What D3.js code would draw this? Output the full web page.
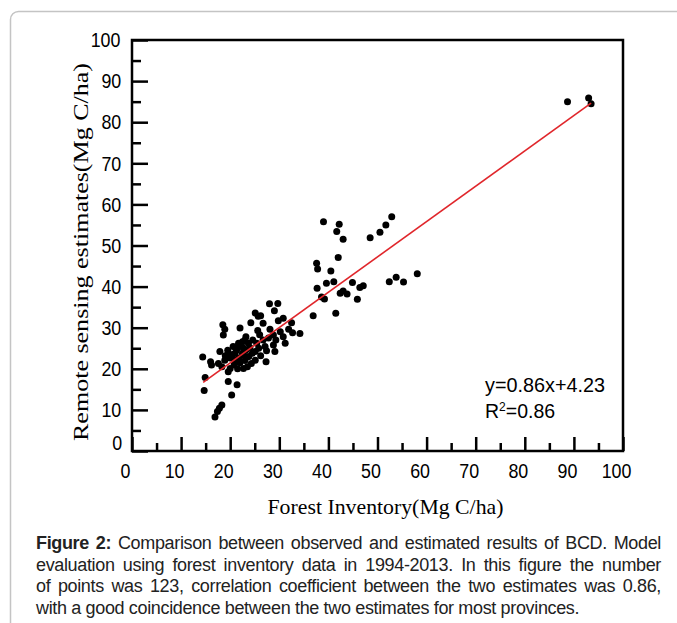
<!DOCTYPE html>
<html lang="en">
<head>
<meta charset="utf-8" />
<title>Figure 2: Forest inventory vs remote sensing estimates</title>
<script src="https://cdn.jsdelivr.net/npm/d3@7"></script>
<style>
    body {
        margin: 0;
        background: #fff;
        width: 677px;
        height: 623px;
        overflow: hidden;
        position: relative;
        font-family: "Liberation Sans", Arial, sans-serif;
    }
    #chart { position: absolute; left: 0; top: 0; }
    /* tick labels in the original look a bit narrow */
    .tick text {
        font-family: "Liberation Sans", Arial, sans-serif;
        font-size: 21px;
        fill: #000;
        transform-box: fill-box;
        transform-origin: center;
        transform: scaleX(0.85);
    }
    .tick line { stroke: #000; stroke-width: 2.5px; }
    .caption {
        position: absolute;
        left: 36px;
        top: 533px;
        width: 625px;
        font-size: 18px;
        letter-spacing: -0.35px;
        line-height: 21.7px;
        color: #222;
    }
    .caption div { text-align: justify; text-align-last: justify; }
    .caption div.last { text-align-last: left; }
</style>
</head>
<body>
<svg id="chart" width="677" height="623"></svg>

<div class="caption">
    <div><b>Figure 2:</b> Comparison between observed and estimated results of BCD. Model</div>
    <div>evaluation using forest inventory data in 1994-2013. In this figure the number</div>
    <div>of points was 123, correlation coefficient between the two estimates was 0.86,</div>
    <div class="last">with a good coincidence between the two estimates for most provinces.</div>
</div>

<script>
// forest inventory (x) vs remote sensing estimate (y), Mg C/ha
const invX = [
    88.7, 93.0, 93.5,
    39.0, 42.2, 41.7, 43.0, 52.9, 51.7, 50.5, 48.5, 42.0, 37.6, 37.8, 40.5, 41.1,
    39.6, 37.7, 44.9, 47.1, 46.4, 42.4, 43.0, 43.8, 38.6, 39.2, 45.9, 52.4, 53.8,
    55.3, 58.1, 36.9, 41.5,
    14.4, 14.7, 14.9, 16.0, 16.2, 16.9, 17.4, 17.8, 18.3, 17.9, 18.5, 18.9, 18.6,
    17.6, 18.3, 18.9, 19.6, 20.3, 19.6, 20.0, 20.3, 20.6, 21.4, 22.0, 21.0, 21.7,
    22.3, 22.7, 23.5, 24.2, 22.5, 23.0, 23.7, 25.1, 25.7, 25.1, 25.1, 23.2, 24.6,
    28.0, 29.7, 29.0, 26.2, 26.7, 30.8, 29.8, 32.5, 28.1, 32.7, 34.2, 30.8, 28.8,
    29.3, 31.2, 26.7, 25.4, 27.1, 28.8, 27.4, 29.1, 27.3, 21.3, 22.7,
    19.5, 20.5, 21.2, 21.8, 22.5, 23.2, 24.0, 23.8, 22.0, 20.8, 21.5, 24.5, 25.8,
    26.2, 19.0, 23.0,
    21.2, 19.6, 22.7, 23.4, 24.3, 26.0, 27.8, 20.0, 25.6, 30.2, 31.9
];
const rsY = [
    85.0, 85.9, 84.5,
    55.8, 55.2, 53.4, 51.5, 57.0, 55.0, 53.2, 51.9, 47.1, 45.7, 44.3, 43.8, 41.2,
    40.8, 39.6, 41.0, 40.2, 39.8, 38.4, 38.9, 38.2, 37.5, 37.0, 36.9, 41.2, 42.3,
    41.1, 43.1, 32.9, 33.5,
    22.9, 14.7, 17.9, 21.7, 20.9, 8.3, 9.6, 10.4, 11.2, 24.2, 30.7, 29.6, 28.2,
    21.3, 20.5, 22.1, 16.9, 13.6, 19.3, 20.1, 22.9, 25.4, 16.1, 29.9, 23.8, 26.2,
    25.4, 20.1, 20.5, 31.2, 26.6, 27.0, 26.2, 33.6, 32.8, 24.2, 22.1, 27.8, 27.0,
    35.8, 35.9, 34.1, 32.9, 31.1, 32.3, 31.7, 31.2, 29.6, 28.8, 28.6, 27.8, 28.2,
    27.0, 26.2, 27.0, 26.2, 25.4, 25.8, 24.4, 24.2, 21.7, 24.6, 25.0,
    24.5, 23.5, 24.8, 22.6, 23.8, 24.6, 25.2, 23.0, 21.5, 21.0, 20.0, 23.8, 25.0,
    23.2, 23.2, 22.0,
    22.1, 23.8, 23.4, 22.9, 21.3, 28.3, 27.5, 22.6, 29.3, 29.0, 29.6
];

// fitted line y = 0.86x + 4.23, drawn over the range of the data
const fitSlope = 0.86;
const fitIntercept = 4.23;
const fitRange = [14.5, 93.5];

const majorTicks = [0, 10, 20, 30, 40, 50, 60, 70, 80, 90, 100];
const minorTicks = [5, 15, 25, 35, 45, 55, 65, 75, 85, 95];

const svg = d3.select("#chart");

// card outline behind everything
svg.append("rect")
    .attr("x", 10.5).attr("y", 11.5)
    .attr("width", 720).attr("height", 700)
    .attr("rx", 8)
    .attr("fill", "none")
    .attr("stroke", "#c4c4c4")
    .attr("stroke-width", 1.5);

const plot = { left: 132, right: 623, top: 40, bottom: 451 };

const x = d3.scaleLinear().domain([0, 100]).range([plot.left, plot.right]);
const y = d3.scaleLinear().domain([0, 100]).range([plot.bottom, plot.top]);

// minor ticks first (no labels)
svg.append("g")
    .attr("transform", `translate(${plot.left},0)`)
    .call(d3.axisLeft(y).tickValues(minorTicks).tickSize(-9).tickFormat(""))
    .call(g => g.select(".domain").remove());
svg.append("g")
    .attr("transform", `translate(0,${plot.bottom})`)
    .call(d3.axisBottom(x).tickValues(minorTicks).tickSize(-8).tickFormat(""))
    .call(g => g.select(".domain").remove());

// major ticks, pointing into the plot
const yAxis = svg.append("g")
    .attr("transform", `translate(${plot.left},0)`)
    .call(d3.axisLeft(y).tickValues(majorTicks).tickSize(-16).tickPadding(9))
    .call(g => g.select(".domain").remove());
// the "0" label sits a little higher so it clears the x axis "0"
yAxis.selectAll(".tick text").filter(d => d === 0).attr("dy", "-0.05em");

svg.append("g")
    .attr("transform", `translate(0,${plot.bottom})`)
    .call(d3.axisBottom(x).tickValues(majorTicks).tickSize(-14).tickPadding(12))
    .call(g => g.select(".domain").remove())
    .call(g => g.selectAll(".tick text").attr("dx", -7));

// plot frame
svg.append("rect")
    .attr("x", plot.left).attr("y", plot.top)
    .attr("width", plot.right - plot.left)
    .attr("height", plot.bottom - plot.top)
    .attr("fill", "none")
    .attr("stroke", "#000")
    .attr("stroke-width", 2.5);

// points
svg.append("g")
    .selectAll("circle")
    .data(invX.map((v, i) => [v, rsY[i]]))
    .enter()
    .append("circle")
    .attr("cx", d => x(d[0]))
    .attr("cy", d => y(d[1]))
    .attr("r", 3.5)
    .attr("fill", "#000");

// regression line
svg.append("line")
    .attr("x1", x(fitRange[0])).attr("y1", y(fitSlope * fitRange[0] + fitIntercept))
    .attr("x2", x(fitRange[1])).attr("y2", y(fitSlope * fitRange[1] + fitIntercept))
    .attr("stroke", "#e0262b")
    .attr("stroke-width", 1.6);

// equation text
const eq = svg.append("g")
    .attr("font-family", "'Liberation Sans', Arial, sans-serif")
    .attr("font-size", 19.5)
    .attr("fill", "#000");
eq.append("text")
    .attr("x", 485).attr("y", 392)
    .attr("textLength", 120).attr("lengthAdjust", "spacingAndGlyphs")
    .text(`y=${fitSlope}x+${fitIntercept}`);
const r2 = eq.append("text").attr("x", 485).attr("y", 418);
r2.append("tspan").text("R");
r2.append("tspan").attr("font-size", 12).attr("dy", -7).text("2");
r2.append("tspan").attr("dy", 7).text("=0.86");

// axis titles, Times-like and narrow
svg.append("text")
    .attr("x", 385.5).attr("y", 514)
    .attr("text-anchor", "middle")
    .attr("font-family", "'Liberation Serif', 'Times New Roman', serif")
    .attr("font-size", 22)
    .attr("textLength", 236).attr("lengthAdjust", "spacingAndGlyphs")
    .text("Forest Inventory(Mg C/ha)");

svg.append("text")
    .attr("transform", "rotate(-90)")
    .attr("x", -252).attr("y", 88)
    .attr("text-anchor", "middle")
    .attr("font-family", "'Liberation Serif', 'Times New Roman', serif")
    .attr("font-size", 22)
    .attr("textLength", 378).attr("lengthAdjust", "spacingAndGlyphs")
    .text("Remote sensing estimates(Mg C/ha)");
</script>
</body>
</html>
